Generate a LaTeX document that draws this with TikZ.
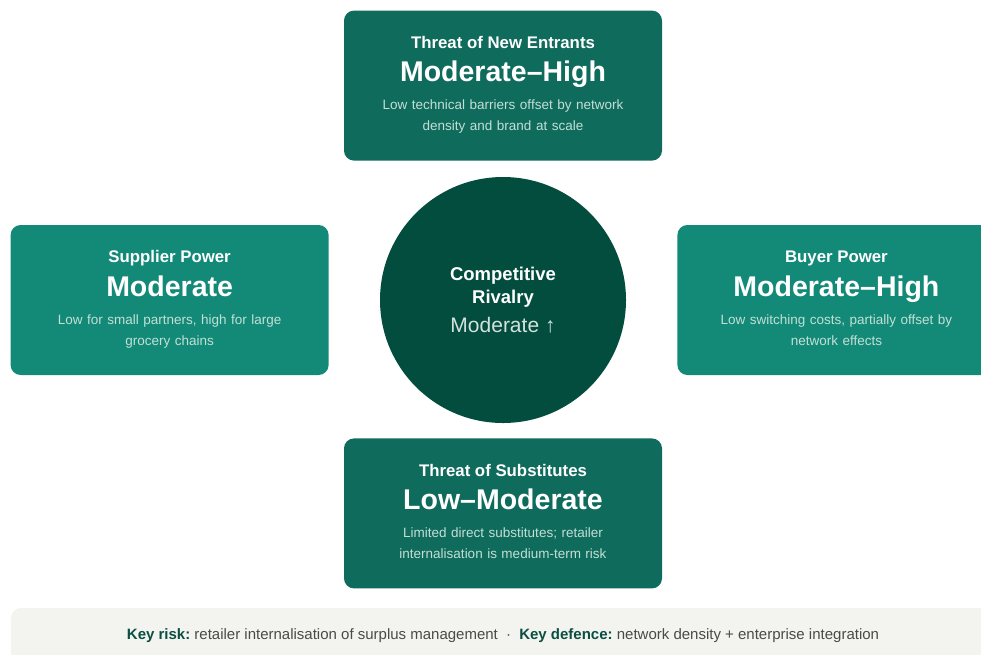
\documentclass[tikz,border=0pt]{standalone}
\usepackage{fontspec}
\setmainfont{Liberation Sans}
\usetikzlibrary{positioning}

\definecolor{deepteal}{HTML}{034D3F}
\definecolor{darkteal}{HTML}{0F6B5C}
\definecolor{midteal}{HTML}{138A78}
\definecolor{mint}{HTML}{C3DFD6}
\definecolor{rivalgray}{HTML}{D3E1DC}
\definecolor{keygreen}{HTML}{0B4F42}
\definecolor{notegray}{HTML}{4A4A4A}
\definecolor{barfill}{HTML}{F3F3EF}

\frenchspacing
\tikzset{
     force/.style = { rounded corners=10pt, minimum width=318pt, minimum height=150pt, inner sep=0pt },
     title/.style = { anchor=base, text=white, font=\fontsize{16.8}{20}\selectfont\bfseries },
     level/.style = { anchor=base, text=white, font=\fontsize{28.5}{32}\selectfont\bfseries },
      note/.style = { anchor=base, text=mint, align=center, text width=290pt,
                      font=\fontsize{13.5}{21}\selectfont },
}
% title, level and note of one force, hung from the top of its box
\newcommand*{\forcetext}[4]{%
  \node[title] (#1-t) at ([yshift=-38pt]#1.north) {#2};
  \node[level] (#1-v) at ([yshift=-71.5pt]#1.north) {#3};
  \node[note]  (#1-n) at ([yshift=-99.5pt]#1.north) {#4};
}

\begin{document}
\frenchspacing
\begin{tikzpicture}[x=1pt,y=-1pt]
  \useasboundingbox (0,0) rectangle (981,654);
  \clip (0,0) rectangle (981,654);

  \node[circle, fill=deepteal, minimum size=246pt, inner sep=0pt] (rivalry) at (503,300) {};
  \node[anchor=base, align=center, text width=200pt, text=white,
        font=\fontsize{18.5}{23.5}\selectfont\bfseries]
    (rivalry-t) at ([yshift=20pt]rivalry.center) {Competitive\\Rivalry};
  \node[anchor=base, text=rivalgray, font=\fontsize{21}{24}\selectfont]
    (rivalry-v) at ([yshift=-32pt]rivalry.center) {Moderate ↑};

  \node[force, fill=darkteal, above=16pt of rivalry] (entrants) {};
  \node[force, fill=darkteal, below=15pt of rivalry] (substitutes) {};
  \node[force, fill=midteal, left=51pt of rivalry] (suppliers) {};
  \node[force, fill=midteal, right=51pt of rivalry] (buyers) {};

  \forcetext{entrants}{Threat of New Entrants}{Moderate–High}
    {Low technical barriers offset by network\\density and brand at scale}
  \forcetext{substitutes}{Threat of Substitutes}{Low–Moderate}
    {Limited direct substitutes; retailer\\internalisation is medium-term risk}
  \forcetext{suppliers}{Supplier Power}{Moderate}
    {Low for small partners, high for large\\grocery chains}
  \forcetext{buyers}{Buyer Power}{Moderate–High}
    {Low switching costs, partially offset by\\network effects}

  % summary strip along the bottom
  \fill[barfill, rounded corners=10pt] (11,608) rectangle (1000,690);
  \node[anchor=base, text=notegray, font=\fontsize{15}{18}\selectfont] (keys) at (503,639)
    {\textcolor{keygreen}{\bfseries Key risk:} retailer internalisation of surplus management
     \hspace{4pt}·\hspace{4pt} \textcolor{keygreen}{\bfseries Key defence:} network density + enterprise integration};
\end{tikzpicture}
\end{document}
